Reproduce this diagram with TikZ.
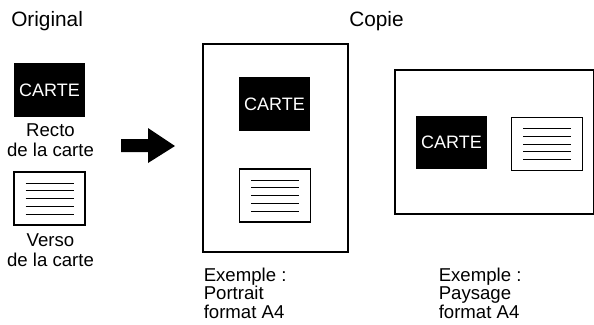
\documentclass[tikz,border=0pt]{standalone}
\usepackage{fontspec}
\setmainfont{Liberation Sans}

% five ruled lines inside a verso box
\newcommand{\versolines}[1]{%
\foreach \dy in {-15.5,-7.75,0,7.75,15.5}
  \draw[line width=.9pt] (#1.center) ++(-24,\dy) -- ++(48,0);}

\begin{document}
\begin{tikzpicture}[x=1pt,y=-1pt,line width=.5pt,
  recto/.style={fill=black,text=white,inner sep=0pt,minimum width=71pt,minimum height=54pt,font=\fontsize{18}{18}\selectfont},
  verso/.style={draw,fill=white,line width=1.8pt,inner sep=0pt,minimum width=71pt,minimum height=53pt},
  page/.style={draw,line width=1.2pt},
  title/.style={inner sep=0pt,anchor=base west,font=\fontsize{20.8}{21}\selectfont},
  caption/.style={inner sep=0pt,font=\fontsize{18.6}{20}\selectfont}]
\path[use as bounding box] (0,0) rectangle (594,324);
\node[title] (orig) at (11,26.7) {Original};
\node[title] (copie) at (349,26.7) {Copie};
% original card
\node[recto] (recto) at (49.5,90) {CARTE};
\node[caption,align=center,anchor=base] (rectolbl) at (50.5,156.7) {Recto\\de la carte};
\node[verso] (verso) at (49.5,198.5) {};
\versolines{verso}
\node[caption,align=center,anchor=base] (versolbl) at (50.5,266.7) {Verso\\de la carte};
% block arrow
\fill (121,139) -- (148,139) -- (148,128) -- (175,146) -- (148,163) -- (148,152) -- (121,152) -- cycle;
% portrait copy
\draw[page] (203,44) rectangle (348,252);
\node[recto] (prtrecto) at (274.5,104) {CARTE};
\node[verso] (prtverso) at (275,195.5) {};
\versolines{prtverso}
\node[caption,align=left,anchor=base west,font=\fontsize{18.6}{18.5}\selectfont] (prtlbl) at (203.5,318) {Exemple :\\Portrait\\format A4};
% landscape copy
\draw[page] (395,70) rectangle (593.4,214);
\node[recto,minimum height=53pt] (lndrecto) at (451.5,142.5) {CARTE};
\node[verso] (lndverso) at (547,144) {};
\versolines{lndverso}
\node[caption,align=left,anchor=base west,font=\fontsize{18.6}{18.5}\selectfont] (lndlbl) at (438.5,318) {Exemple :\\Paysage\\format A4};
\end{tikzpicture}
\end{document}
